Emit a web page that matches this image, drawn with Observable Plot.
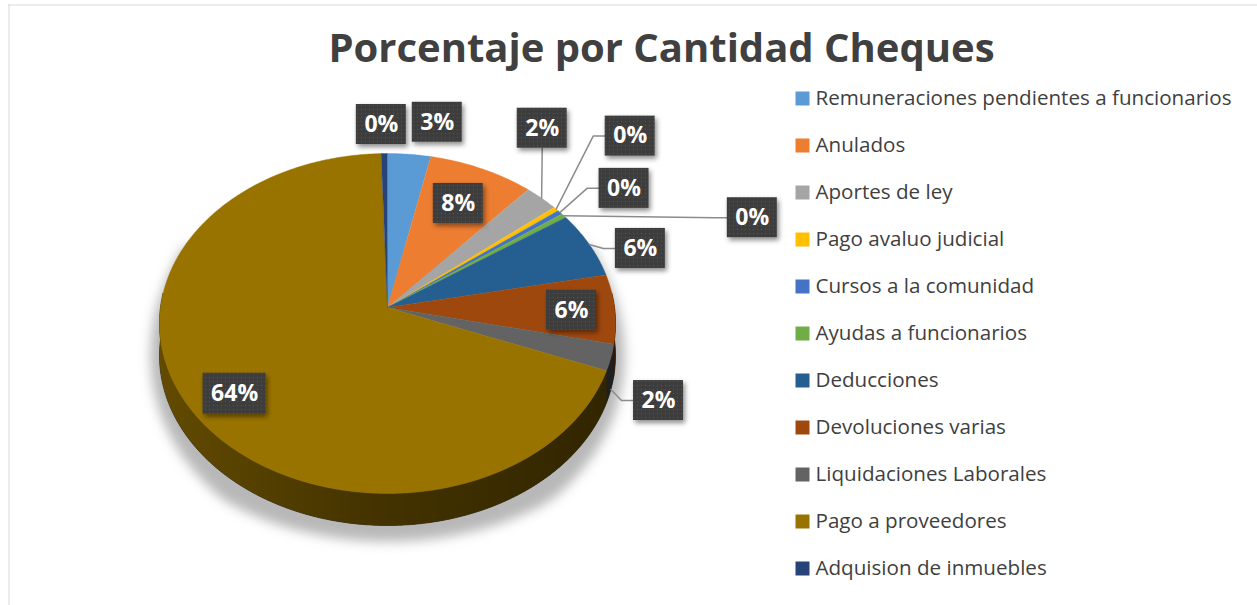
<!DOCTYPE html>
<html><head><meta charset="utf-8">
<script src="https://cdn.jsdelivr.net/npm/d3@7"></script>
<script src="https://cdn.jsdelivr.net/npm/@observablehq/plot@0.6"></script>
<style>
html,body{margin:0;padding:0;background:#fff;}
#chart svg{display:block;}
</style></head><body><div id="chart"></div>
<script>
// ---- data ----
const title = "Porcentaje por Cantidad Cheques";
const categories = ["Remuneraciones pendientes a funcionarios","Anulados","Aportes de ley","Pago avaluo judicial","Cursos a la comunidad","Ayudas a funcionarios","Deducciones","Devoluciones varias","Liquidaciones Laborales","Pago a proveedores","Adquision de inmuebles"];
const shares = [0.031,0.076,0.0245,0.004,0.004,0.004,0.059,0.061,0.023,0.636,0.0045];
const colors = ["#5B9BD5","#ED7D31","#A5A5A5","#FFC000","#4472C4","#70AD47","#255E91","#9E480E","#636363","#997300","#264478"];

// ---- layout ----
const W = 1257, H = 605;
const P = {cx: 387, cy: 307, rx: 227, ry: 168.5, k: 0.0941, depth: 32};
// label placement: [radial fraction of anchor, dx, dy, anchor on bottom rim, leader line]
const labelPlacement = [
  [1, 28, -32, 0, 0],
  [0.75, 0, 0, 0, 0],
  [1, 0.6, -70, 0, 1],
  [1, 74, -73, 0, 1],
  [1, 64, -24, 0, 1],
  [1, 188.5, 2, 0, 1],
  [1, 51, 4, 0, 1],
  [0.81, 0, 1.5, 0, 0],
  [1, 47.6, 11, 1, 1],
  [0.78, 0, 6, 0, 0],
  [1, -3, -29, 0, 0]
];
const legend = {x: 802, textX: 815, top: 98, step: 47};

function proj(deg, r = 1, dz = 0) {
  const t = deg * Math.PI / 180;
  const u = r * Math.sin(t), w = r * Math.cos(t);
  const s = 1 / (1 + P.k * w);
  return [P.cx + P.rx * u * s, P.cy - P.ry * w * s + dz];
}
function arcPts(a0, a1, r = 1, dz = 0) {
  const n = Math.max(2, Math.ceil((a1 - a0) / 0.5) + 1);
  return d3.range(n).map(j => proj(a0 + (a1 - a0) * j / (n - 1), r, dz));
}

const pieRows = categories.map((name, i) => ({name, share: shares[i]}));
const arcs = d3.pie().sort(null).value(d => d.share)(pieRows).map(a => ({
  name: a.data.name, share: a.data.share,
  a0: a.startAngle * 180 / Math.PI, a1: a.endAngle * 180 / Math.PI
}));

const topRows = arcs.flatMap(s => [[P.cx, P.cy], ...arcPts(s.a0, s.a1)].map(([x, y]) => ({name: s.name, x, y})));
const V0 = 85, V1 = 275;
const sideRows = arcs.flatMap(s => {
  const a0 = Math.max(s.a0, V0), a1 = Math.min(s.a1, V1);
  if (a1 <= a0) return [];
  return [...arcPts(a0, a1), ...arcPts(a0, a1, 1, P.depth).reverse()].map(([x, y]) => ({name: s.name, x, y}));
});
const shadeRows = [...arcPts(V0, V1), ...arcPts(V0, V1, 1, P.depth).reverse()].map(([x, y]) => ({x, y}));
const shadowRows = d3.range(68, 292.01, 2).map(t => {
  const f = Math.max(0, Math.min(1, (t - 68) / 75, (292 - t) / 75));
  const [x, y] = proj(t, 1, (P.depth + 16) * f);
  return {x: P.cx + (x - P.cx) * (1 + 0.1 * f), y};
});

const fmt = d3.format(".0%");
const labelRows = arcs.map((s, i) => {
  const [r, dx, dy, drop, leader] = labelPlacement[i];
  const mid = (s.a0 + s.a1) / 2;
  const rim = proj(mid, 1, drop * P.depth);
  const ax = P.cx + (rim[0] - P.cx) * r, ay = P.cy + (rim[1] - P.cy) * r;
  const label = fmt(s.share);
  const w = 24 + 13 * label.length, h = label.length > 2 ? 41 : 40;
  return {name: s.name, label, ax, ay, cx: ax + dx, cy: ay + dy, w, h, leader, dx, dy};
});
const leaderRows = labelRows.filter(d => d.leader).flatMap(d => {
  let pts;
  if (Math.abs(d.dx) < d.w / 2) {
    pts = [[d.ax, d.ay], [d.cx, d.dy < 0 ? d.cy + d.h / 2 : d.cy - d.h / 2]];
  } else {
    const sg = d.dx > 0 ? 1 : -1;
    const ex = d.cx - sg * d.w / 2;
    pts = [[d.ax, d.ay], [ex - sg * 12, d.cy], [ex, d.cy]];
  }
  return pts.map(([x, y]) => ({name: d.name, x, y}));
});
const legendRows = categories.map((name, i) => ({name, x: legend.x, tx: legend.textX, y: legend.top + legend.step * i}));

const chart = Plot.plot({
  width: W, height: H, margin: 0,
  x: {domain: [0, W], range: [0, W], axis: null},
  y: {domain: [0, H], range: [0, H], axis: null},
  color: {domain: categories, range: colors},
  style: {fontFamily: "Open Sans", background: "#fff"},
  marks: [
    Plot.ruleX([8.5], {y1: 4, y2: H, stroke: "#d9d9d9", strokeWidth: 1}),
    Plot.ruleY([4.5], {x1: 8, x2: W, stroke: "#d9d9d9", strokeWidth: 1}),
    Plot.line(shadowRows, {x: "x", y: "y", fill: "#b8b8b8", stroke: null, ariaDescription: "shadow"}),
    Plot.line(sideRows, {x: "x", y: "y", z: "name", fill: "#000", stroke: "#000", strokeWidth: 0.5}),
    Plot.line(sideRows, {x: "x", y: "y", z: "name", fill: "name", fillOpacity: 0.64, stroke: null}),
    Plot.line(shadeRows, {x: "x", y: "y", fill: "url(#sideShade)", stroke: null}),
    Plot.line(topRows, {x: "x", y: "y", z: "name", fill: "name", stroke: "name", strokeWidth: 0.4}),
    Plot.line(leaderRows, {x: "x", y: "y", z: "name", stroke: "#8c8c8c", strokeWidth: 1.5}),
    Plot.rect(labelRows, {x1: d => d.cx - d.w / 2, x2: d => d.cx + d.w / 2, y1: d => d.cy - d.h / 2, y2: d => d.cy + d.h / 2, fill: "url(#dots)", ariaDescription: "boxes"}),
    Plot.text(labelRows, {x: "cx", y: "cy", text: "label", fill: "white", fontWeight: "bold", fontSize: 23, fontFamily: "Open Sans"}),
    Plot.dot(legendRows, {x: "x", y: "y", fill: "name", symbol: "square", r: 7.9, stroke: null}),
    Plot.text(legendRows, {x: "tx", y: "y", text: "name", textAnchor: "start", fontSize: 20.6, fill: "#404040", fontFamily: "Open Sans"}),
    Plot.text([title], {x: () => 661, y: () => 48.5, text: d => d, fontSize: 40, fontWeight: "bold", fill: "#404040", fontFamily: "Open Sans"})
  ]
});

const svg = d3.select(chart);
const defs = svg.insert("defs", ":first-child");
const pat = defs.append("pattern").attr("id", "dots").attr("patternUnits", "userSpaceOnUse").attr("width", 4).attr("height", 4);
pat.append("rect").attr("width", 4).attr("height", 4).attr("fill", "#3e3e3e");
pat.append("rect").attr("x", 1).attr("y", 1).attr("width", 1).attr("height", 1).attr("fill", "#565656");
const grad = defs.append("linearGradient").attr("id", "sideShade").attr("gradientUnits", "userSpaceOnUse")
  .attr("x1", P.cx - P.rx).attr("x2", P.cx + P.rx).attr("y1", 0).attr("y2", 0);
[[0, 0], [0.45, 0.3], [1, 0.5]].forEach(([o, a]) => grad.append("stop").attr("offset", o).attr("stop-color", "#000").attr("stop-opacity", a));
defs.append("filter").attr("id", "blur").attr("x", "-20%").attr("y", "-20%").attr("width", "140%").attr("height", "140%")
  .append("feGaussianBlur").attr("stdDeviation", 6);
defs.append("filter").attr("id", "drop").attr("x", "-30%").attr("y", "-30%").attr("width", "160%").attr("height", "160%")
  .append("feDropShadow").attr("dx", 2).attr("dy", 3).attr("stdDeviation", 2.5).attr("flood-color", "#000").attr("flood-opacity", 0.45);
svg.selectAll('g[aria-description="shadow"]').attr("filter", "url(#blur)");
svg.selectAll('g[aria-description="boxes"]').attr("filter", "url(#drop)");

document.getElementById("chart").appendChild(chart);
</script>
</body></html>
